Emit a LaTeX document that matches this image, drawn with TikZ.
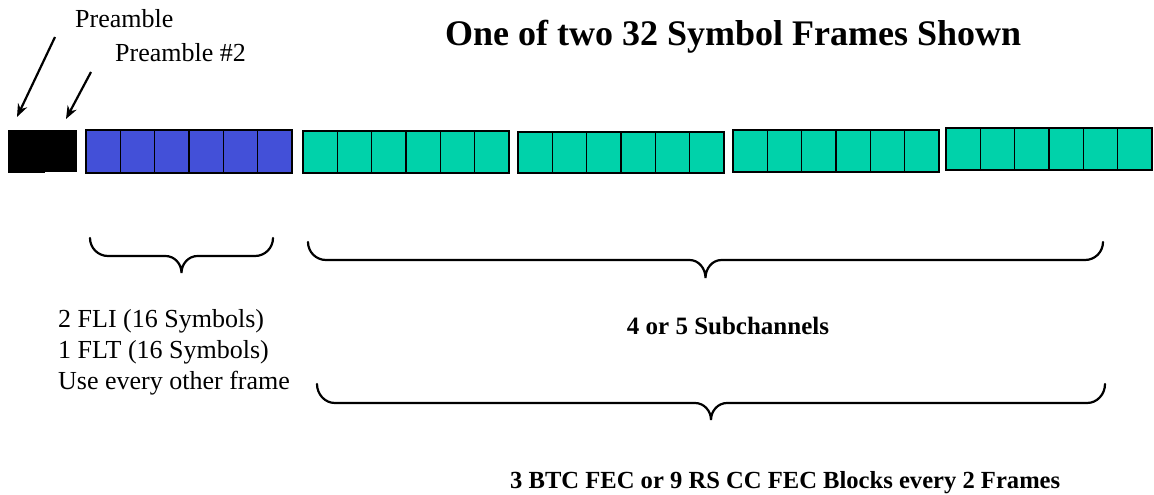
\documentclass[tikz,border=0pt]{standalone}
\usepackage{fontspec}
\setmainfont{Liberation Serif}
\usetikzlibrary{arrows.meta}
\definecolor{symblue}{RGB}{67,80,216}
\definecolor{symgreen}{RGB}{0,210,170}
\tikzset{
  cellbox/.style={draw=black, line width=1.6pt, inner sep=0pt, anchor=north west,
    minimum width=34.33pt, outer sep=0pt},
  bluecell/.style={cellbox, fill=symblue, minimum height=43pt},
  greencell/.style={cellbox, fill=symgreen, minimum height=42pt},
  preblock/.style={fill=black, inner sep=0pt, anchor=north west, outer sep=0pt},
  ptr/.style={line width=2.2pt, -{Stealth[length=13pt,width=10pt]}},
  bracepath/.style={line width=2.2pt, line cap=round},
  lbl/.style={font=\fontsize{26}{31}\selectfont, anchor=base west, inner sep=0pt},
  titletxt/.style={font=\fontsize{36}{43}\selectfont\bfseries, anchor=base west, inner sep=0pt},
  boldtxt/.style={font=\fontsize{25}{30}\selectfont\bfseries, inner sep=0pt},
}
\newcommand{\drawmybrace}[5]{% xL, xR, ytop, yh, ytip
  \pgfmathsetmacro\bxm{0.5*#1+0.5*#2}%
  \pgfmathsetmacro\bxa{#1+18}%
  \pgfmathsetmacro\bxb{\bxm-16}%
  \pgfmathsetmacro\bxc{\bxm+16}%
  \pgfmathsetmacro\bxd{#2-18}%
  \draw[bracepath] (#1,#3) to[out=-90,in=180] (\bxa,#4)
    -- (\bxb,#4) to[out=0,in=90] (\bxm,#5)
    to[out=90,in=180] (\bxc,#4)
    -- (\bxd,#4) to[out=0,in=-90] (#2,#3);}
\begin{document}
\begin{tikzpicture}[x=1pt,y=-1pt]
\useasboundingbox[fill=white] (0,0) rectangle (1154,495);
\begin{scope}
\clip (0,0) rectangle (1154,495);
% preamble blocks
\node[preblock, minimum width=37pt, minimum height=43pt] (pre1) at (8,130) {};
\node[preblock, minimum width=32pt, minimum height=42pt] (pre2) at (45,130) {};
% blue FLI/FLT group
\foreach \i in {0,...,5} \node[bluecell] (b\i) at ({86+\i*34.33},130) {};
% green subchannel groups
\foreach \i in {0,...,5} \node[greencell] (ga\i) at ({303+\i*34.33},131) {};
\foreach \i in {0,...,5} \node[greencell, minimum height=41pt] (gb\i) at ({518+\i*34.33},132) {};
\foreach \i in {0,...,5} \node[greencell] (gc\i) at ({733+\i*34.33},130) {};
\foreach \i in {0,...,5} \node[greencell] (gd\i) at ({946+\i*34.33},128) {};
\end{scope}
% labels
\node[lbl] (preL) at (75,28) {Preamble};
\node[lbl] (pre2L) at (115,62) {Preamble \#2};
\coordinate (a1s) at (55,37);
\coordinate (a1e) at (17,117);
\coordinate (a2s) at (91,72);
\coordinate (a2e) at (66,119);
\draw[ptr] (a1s) -- (a1e);
\draw[ptr] (a2s) -- (a2e);
\node[titletxt] (title) at (445,46) {One of two 32 Symbol Frames Shown};
% braces
\drawmybrace{90}{273}{238}{256}{273}
\drawmybrace{308}{1103}{242}{260}{278}
\drawmybrace{317}{1105}{384}{403}{420}
% texts
\node[lbl] (l1) at (58,327) {2 FLI (16 Symbols)};
\node[lbl] (l2) at (58,358) {1 FLT (16 Symbols)};
\node[lbl] (l3) at (58,389) {Use every other frame};
\node[boldtxt, anchor=base] (sub) at (728,334) {4 or 5 Subchannels};
\node[boldtxt, anchor=base west, font=\fontsize{24.6}{30}\selectfont\bfseries] (fec) at (510,488) {3 BTC FEC or 9 RS CC FEC Blocks every 2 Frames};
\end{tikzpicture}
\end{document}
